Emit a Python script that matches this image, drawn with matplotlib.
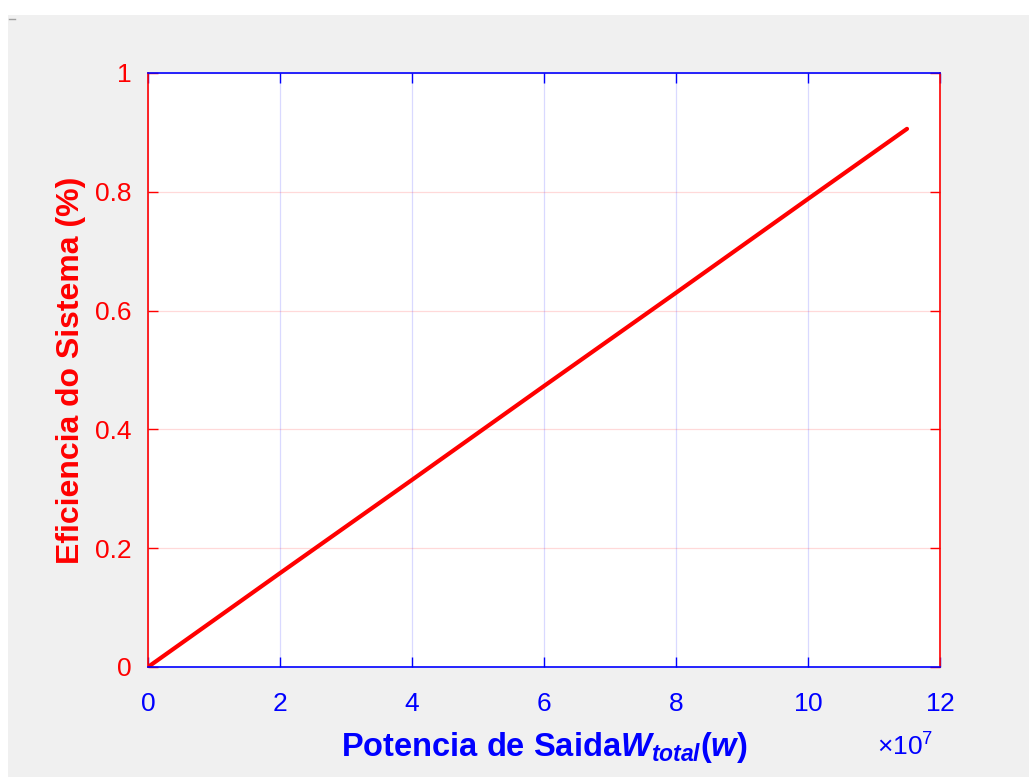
import numpy as np
import matplotlib
matplotlib.use("Agg")
import matplotlib.pyplot as plt
from matplotlib.patches import Rectangle
from matplotlib.lines import Line2D
from matplotlib.ticker import ScalarFormatter

plt.rcParams['font.family'] = ['Liberation Sans', 'DejaVu Sans']
plt.rcParams['mathtext.fontset'] = 'custom'
plt.rcParams['mathtext.rm'] = 'Liberation Sans:bold'
plt.rcParams['mathtext.it'] = 'Liberation Sans:italic:bold'
plt.rcParams['mathtext.bf'] = 'Liberation Sans:bold'
plt.rcParams['mathtext.sf'] = 'Liberation Sans'

# values (power in W, efficiency)
potencia = np.array([0, 2e7, 4e7, 6e7, 8e7, 10e7, 11.5e7])
eficiencia = np.array([0, 0.158, 0.315, 0.473, 0.630, 0.788, 0.906])

xticks = [0, 2e7, 4e7, 6e7, 8e7, 10e7, 12e7]
yticks = [0, 0.2, 0.4, 0.6, 0.8, 1.0]
ytick_labels = ['0', '0.2', '0.4', '0.6', '0.8', '1']

W, H = 1029, 777
fig = plt.figure(figsize=(W / 100, H / 100), dpi=100, facecolor='white')
# MATLAB-style grey window area with a thin white border top and left
fig.patches.append(Rectangle((8 / W, 0), 1 - 8 / W, 1 - 15 / H,
                             transform=fig.transFigure, facecolor='#f0f0f0',
                             edgecolor='none', zorder=-10))
fig.lines.append(Line2D([9 / W, 15 / W], [1 - 19 / H, 1 - 19 / H],
                        transform=fig.transFigure, color='#a0a0a0', lw=1))

ax = fig.add_axes([148 / W, 110 / H, 792 / W, 594 / H])
ax.set_facecolor('white')

ax.plot(potencia, eficiencia, color='red', linewidth=3.0, solid_capstyle='round')

ax.set_xlim(0, 12e7)
ax.set_ylim(0, 1)
ax.set_xticks(xticks)
ax.set_yticks(yticks)
ax.set_yticklabels(ytick_labels)

# fixed exponent 10^7 like MATLAB
fmt = ScalarFormatter(useMathText=True)
fmt.set_powerlimits((7, 7))
ax.xaxis.set_major_formatter(fmt)
ax.xaxis.get_offset_text().set_visible(False)
ax.text(0.992, -0.135, r'$\mathsf{\times10^{7}}$', transform=ax.transAxes,
        ha='right', va='center', color='blue', fontsize=19)

# vertical grid bluish, horizontal grid reddish
ax.xaxis.grid(True, color='blue', alpha=0.15, linewidth=0.9)
ax.yaxis.grid(True, color='red', alpha=0.15, linewidth=0.9)

for side in ['bottom', 'top']:
    ax.spines[side].set_color('blue')
    ax.spines[side].set_linewidth(1.2)
for side in ['left', 'right']:
    ax.spines[side].set_color('red')
    ax.spines[side].set_linewidth(1.2)

ax.tick_params(axis='x', colors='blue', direction='in', length=7, width=1,
               labelsize=19, pad=18, top=True)
ax.tick_params(axis='y', colors='red', direction='in', length=7, width=1,
               labelsize=19, pad=12, right=True)

ax.set_xlabel(r'Potencia de Saida$\mathit{W}_{\mathit{total}}\mathit{(w)}$',
              color='blue', fontsize=23.5, fontweight='bold', labelpad=10)
ax.set_ylabel('Eficiencia do Sistema (%)', color='red', fontsize=23,
              fontweight='bold', labelpad=6)

fig.savefig('out.png', dpi=100, facecolor=fig.get_facecolor())
